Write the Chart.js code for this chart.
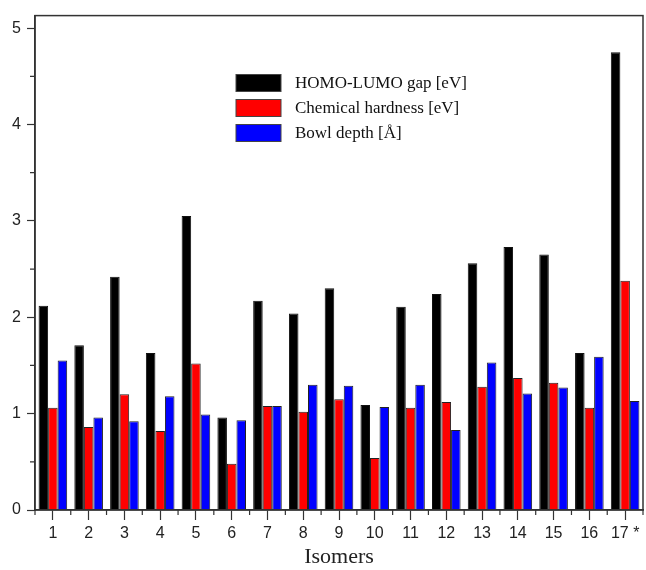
<!DOCTYPE html>
<html>
<head>
<meta charset="utf-8">
<script src="https://cdn.jsdelivr.net/npm/chart.js@4/dist/chart.umd.min.js"></script>
<style>
  body { margin: 0; background: #fff; }
  #wrap { width: 646px; height: 570px; position: relative; }
</style>
</head>
<body>
<div id="wrap"><canvas id="myChart"></canvas></div>
<script>
// isomer labels and values
const isomers = ['1', '2', '3', '4', '5', '6', '7', '8', '9', '10', '11', '12', '13', '14', '15', '16', '17 *'];
const gapValues = [2.12, 1.71, 2.42, 1.63, 3.05, 0.96, 2.17, 2.04, 2.30, 1.09, 2.11, 2.24, 2.56, 2.73, 2.65, 1.63, 4.75];
const hardnessValues = [1.06, 0.86, 1.20, 0.82, 1.52, 0.48, 1.08, 1.02, 1.15, 0.54, 1.06, 1.12, 1.28, 1.37, 1.32, 1.06, 2.38];
const depthValues = [1.55, 0.96, 0.92, 1.18, 0.99, 0.93, 1.08, 1.30, 1.29, 1.07, 1.30, 0.83, 1.53, 1.21, 1.27, 1.59, 1.13];
const seriesNames = ['HOMO-LUMO gap [eV]', 'Chemical hardness [eV]', 'Bowl depth [\u00C5]'];
const yTicks = [0, 1, 2, 3, 4, 5];

const axisColor = '#333';

// frame, minor ticks and the in-plot legend
const extras = {
	id: 'extras',
	afterDraw(chart) {
		const c = chart.ctx;
		const a = chart.chartArea;
		const x = chart.scales.x, y = chart.scales.y;
		c.save();
		c.strokeStyle = axisColor;
		c.lineWidth = 1.5;
		c.strokeRect(a.left, a.top, a.right - a.left, a.bottom - a.top);

		// minor ticks
		c.lineWidth = 1.2;
		c.beginPath();
		for (let i = 0; i <= isomers.length; i++) {
			const px = x.getPixelForValue(i - 0.5);
			c.moveTo(px, a.bottom);
			c.lineTo(px, a.bottom + 5);
		}
		for (let v = 0.5; v < y.max; v += 1) {
			const py = y.getPixelForValue(v);
			c.moveTo(a.left, py);
			c.lineTo(a.left - 5, py);
		}
		c.stroke();

		// legend
		const ds = chart.data.datasets;
		c.font = '17px "Liberation Serif", "Times New Roman", serif';
		c.textBaseline = 'middle';
		ds.forEach((d, i) => {
			const rowY = 83 + i * 25;
			c.fillStyle = d.backgroundColor;
			c.fillRect(236, rowY - 8.5, 45, 17);
			c.strokeStyle = '#444';
			c.lineWidth = 1;
			c.strokeRect(236, rowY - 8.5, 45, 17);
			c.fillStyle = '#111';
			c.fillText(d.label, 295, rowY + 1);
		});
		c.restore();
	}
};

const ctx = document.getElementById('myChart').getContext('2d');
const chart = new Chart(ctx, {
	type: 'bar',
	data: {
		labels: isomers,
		datasets: [{
			label: seriesNames[0],
			data: gapValues,
			backgroundColor: '#000000',
			borderColor: '#111',
			borderWidth: 1
		}, {
			label: seriesNames[1],
			data: hardnessValues,
			backgroundColor: '#ff0000',
			borderColor: '#222',
			borderWidth: 1
		}, {
			label: seriesNames[2],
			data: depthValues,
			backgroundColor: '#0000ff',
			borderColor: '#222',
			borderWidth: 1
		}]
	},
	options: {
		responsive: true,
		maintainAspectRatio: false,
		animation: false,
		categoryPercentage: 0.8,
		barPercentage: 1.0,
		layout: { padding: { top: 13, right: 3, left: 0, bottom: 0 } },
		plugins: {
			legend: { display: false },
			tooltip: { enabled: false }
		},
		scales: {
			x: {
				afterFit: s => { s.height = 60; },
				grid: { display: true, drawOnChartArea: false, offset: false, tickLength: 10, tickColor: axisColor, tickWidth: 1.2 },
				border: { color: axisColor, width: 1.5 },
				ticks: { color: '#222', padding: 4, maxRotation: 0, autoSkip: false, font: { family: '"Liberation Sans", Arial, sans-serif', size: 16 } },
				title: { display: true, text: 'Isomers', color: '#222', padding: { top: 3, bottom: 0 }, font: { family: '"Liberation Serif", "Times New Roman", serif', size: 22 } }
			},
			y: {
				min: 0,
				max: 5.13,
				afterFit: s => { s.width = 35; },
				afterBuildTicks: s => { s.ticks = yTicks.map(v => ({ value: v })); },
				grid: { display: true, drawOnChartArea: false, tickLength: 8, tickColor: axisColor, tickWidth: 1.2 },
				border: { color: axisColor, width: 1.5 },
				ticks: { color: '#222', padding: 6, font: { family: '"Liberation Sans", Arial, sans-serif', size: 16 } }
			}
		}
	},
	plugins: [extras]
});
</script>
</body>
</html>
